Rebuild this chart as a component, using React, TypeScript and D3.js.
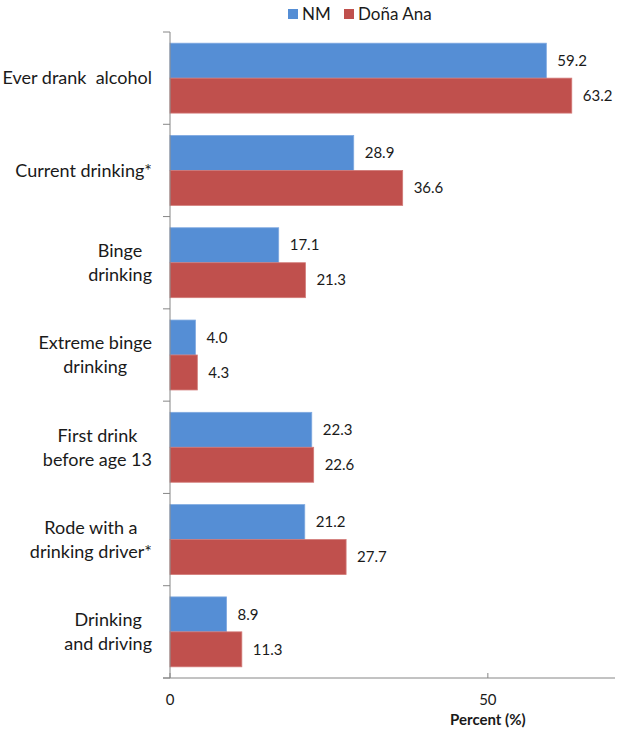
import React, { useEffect, useRef } from "react";
import * as d3 from "d3";

const categories = [
  "Ever drank  alcohol",
  "Current drinking*",
  "Binge\ndrinking",
  "Extreme binge\ndrinking",
  "First drink\nbefore age 13",
  "Rode with a\ndrinking driver*",
  "Drinking\nand driving",
];
const seriesNames = ["NM", "Doña Ana"];
const nmValues = [59.2, 28.9, 17.1, 4.0, 22.3, 21.2, 8.9];
const donaAnaValues = [63.2, 36.6, 21.3, 4.3, 22.6, 27.7, 11.3];
const xTicks = [0, 50];
const colors = ["#558ED5", "#C0504D"];
const borders = ["#7FA9E0", "#D27A78"];

const W = 627, H = 730;
const FONT = "Lato, 'Open Sans', sans-serif";

export default function App() {
  const ref = useRef<SVGSVGElement>(null);
  useEffect(() => {
    const svg = d3.select(ref.current);
    svg.selectAll("*").remove();
    const x = d3.scaleLinear().domain([0, 70]).range([170, 615]);
    const y = d3.scaleBand<number>().domain(d3.range(categories.length)).range([32, 678]);
    const sub = d3.scaleBand<number>().domain([0, 1]).range([0, y.step()]).paddingOuter(0.32);
    const data = [nmValues, donaAnaValues];

    // bars
    data.forEach((vals, s) => {
      svg.append("g").selectAll("rect").data(vals).join("rect")
        .attr("x", x(0))
        .attr("y", (_, i) => (y(i) as number) + (sub(s) as number))
        .attr("width", (d) => x(d) - x(0))
        .attr("height", sub.bandwidth())
        .attr("fill", colors[s])
        .attr("stroke", borders[s])
        .attr("stroke-width", 0.8);
      svg.append("g").selectAll("text").data(vals).join("text")
        .attr("x", (d) => x(d) + 11)
        .attr("y", (_, i) => (y(i) as number) + (sub(s) as number) + sub.bandwidth() / 2)
        .attr("dy", "0.35em")
        .attr("font-family", FONT)
        .attr("font-size", 15)
        .attr("fill", "#1a1a1a")
        .text((d) => d.toFixed(1));
    });

    // axes
    const axisColor = "#868686";
    svg.append("line").attr("x1", x(0)).attr("x2", x(0)).attr("y1", 32).attr("y2", 678)
      .attr("stroke", axisColor);
    svg.append("line").attr("x1", 163).attr("x2", x(70)).attr("y1", 678).attr("y2", 678)
      .attr("stroke", axisColor);
    d3.range(categories.length + 1).forEach((i) => {
      const yy = 32 + i * y.step();
      svg.append("line").attr("x1", 163).attr("x2", x(0)).attr("y1", yy).attr("y2", yy)
        .attr("stroke", axisColor);
    });
    xTicks.forEach((t) => {
      svg.append("line").attr("x1", x(t)).attr("x2", x(t)).attr("y1", 673).attr("y2", 678)
        .attr("stroke", axisColor);
      svg.append("text").attr("x", x(t)).attr("y", 705).attr("text-anchor", "middle")
        .attr("font-family", FONT).attr("font-size", 15).attr("fill", "#1a1a1a").text(String(t));
    });
    svg.append("text").attr("x", x(50)).attr("y", 725).attr("text-anchor", "middle")
      .attr("font-family", FONT).attr("font-size", 15).attr("font-weight", "bold")
      .attr("fill", "#1a1a1a").text("Percent (%)");

    // category labels
    categories.forEach((c, i) => {
      const lines = c.split("\n");
      const cy = (y(i) as number) + y.step() / 2;
      const lh = 24;
      const g = svg.append("g");
      const texts = lines.map((ln, j) =>
        g.append("text")
          .attr("y", cy + (j - (lines.length - 1) / 2) * lh)
          .attr("dy", "0.35em")
          .attr("text-anchor", "middle")
          .attr("font-family", FONT)
          .attr("font-size", 18)
          .attr("fill", "#1a1a1a")
          .attr("xml:space", "preserve")
          .style("white-space", "pre")
          .text(ln)
      );
      const maxW = d3.max(texts, (t) => (t.node() as SVGTextElement).getComputedTextLength()) || 0;
      texts.forEach((t) => t.attr("x", 152 - maxW / 2));
    });

    // legend
    const lg = svg.append("g");
    const items = [{ x: 288 }, { x: 344 }];
    seriesNames.forEach((n, s) => {
      lg.append("rect").attr("x", items[s].x).attr("y", 9).attr("width", 10).attr("height", 10)
        .attr("fill", colors[s]);
      lg.append("text").attr("x", items[s].x + 14).attr("y", 14).attr("dy", "0.35em")
        .attr("font-family", FONT).attr("font-size", 17).attr("fill", "#1a1a1a").text(n);
    });
  }, []);
  return (
    <svg ref={ref} width={W} height={H}
      style={{ position: "absolute", left: 0, top: 0, background: "#fff" }} />
  );
}
